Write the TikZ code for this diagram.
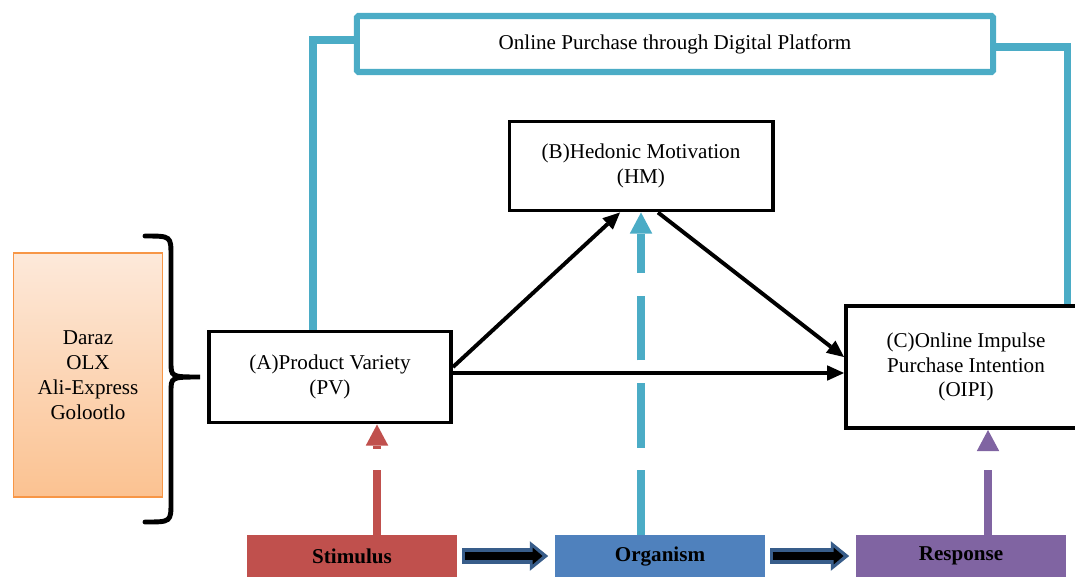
\documentclass[tikz,border=0pt]{standalone}
\usepackage{fontspec}
\setmainfont{Liberation Serif}
\usetikzlibrary{arrows.meta,calc}

\definecolor{linkcyan}{HTML}{4BACC6}
\definecolor{stimred}{HTML}{C0504D}
\definecolor{orgblue}{HTML}{4F81BD}
\definecolor{resppurple}{HTML}{8064A2}
\definecolor{flowblue}{HTML}{385D8A}
\definecolor{sitefill}{HTML}{FBC291}
\definecolor{sitetop}{HTML}{FDE9DA}
\definecolor{siteedge}{HTML}{F79646}

\tikzset{
  varbox/.style={draw=black, line width=2.8pt, fill=white, align=center, inner sep=0pt},
  topbox/.style={draw=linkcyan, line width=4.3pt, rounded corners=1pt, fill=white, align=center, inner sep=0pt},
  sitebox/.style={draw=siteedge, line width=1.2pt, top color=sitetop, bottom color=sitefill, align=center, inner sep=0pt},
  sorbox/.style={align=center, inner sep=0pt, font=\fontsize{15}{18}\selectfont\bfseries},
  link/.style={linkcyan, line width=5pt},
  arr/.style={line width=2.8pt, -{Triangle[length=12pt,width=11pt,line width=0pt]}},
  dasharr/.style={line width=5.5pt, dash pattern=on 46pt off 15pt, -{Triangle[length=15pt,width=16pt,line width=0pt]}},
  flowout/.style={flowblue, line width=11pt, shorten <=4pt, shorten >=5pt, -{Triangle[length=13pt,width=21pt,line width=0pt]}},
  flowin/.style={black, line width=6pt, shorten <=5.5pt, shorten >=9pt, -{Triangle[length=7pt,width=12pt,line width=0pt]}}
}

\begin{document}
\begin{tikzpicture}[x={(0.025cm,0)}, y={(0,-0.025cm)}, font=\fontsize{15}{17.7}\selectfont]
\useasboundingbox (0,0) rectangle (1075,580);

% platform box on top
\node[topbox, minimum width=15.9cm, minimum height=1.4cm] (top) at (675,44) {Online Purchase through Digital Platform};

% the three variables
\node[varbox, minimum width=6.575cm, minimum height=2.225cm] (hm) at (641,166) {(B)Hedonic Motivation\\(HM)};
\node[varbox, minimum width=6.05cm, minimum height=2.275cm] (pv) at (330,377) {(A)Product Variety\\(PV)};
\node[varbox, minimum width=6cm, minimum height=3.05cm] (oipi) at (966,367) {(C)Online Impulse\\Purchase Intention\\(OIPI)};

% platforms
\node[sitebox, minimum width=3.725cm, minimum height=6.1cm] (sites) at (88,375) {Daraz\\OLX\\Ali-Express\\Golootlo};
\coordinate (tip) at (200,377);
\draw[line width=3.5pt, line cap=round] (145,236) .. controls (171,236) .. (171,256) -- (171,362) .. controls (171,377) .. (tip)
  .. controls (171,377) .. (171,392) -- (171,502) .. controls (171,522) .. (145,522);

% S-O-R boxes
\node[sorbox, fill=stimred, minimum width=5.225cm, minimum height=1.05cm] (stim) at (352,556) {Stimulus};
\node[sorbox, fill=orgblue, minimum width=5.225cm, minimum height=1.05cm] (org) at (660,556) {Organism};
\node[sorbox, fill=resppurple, minimum width=5.225cm, minimum height=1.05cm] (resp) at (961,556) {Response};

% cyan links to the platform box
\draw[link] ($(pv.north west)+(106,0)$) |- ($(top.west)+(0,-4)$);
\draw[link] ($(top.east)+(0,3)$) -| ($(oipi.north east)+(-21,0)$);

% paths
\draw[arr] ($(pv.east)+(0,-10)$) -- ($(hm.south)+(-21,0)$);
\draw[arr] ($(hm.south)+(17,0)$) -- ($(oipi.west)+(0,-10)$);
\draw[arr] ($(pv.east)+(0,-4)$) coordinate (h1) -- (h1 -| oipi.west);

% dashed links from S-O-R
\draw[dasharr, stimred] (stim.north -| 377,0) -- (pv.south -| 377,0);
\draw[dasharr, linkcyan, dash pattern=on 46pt off 16pt] (org.north -| hm.south) -- (hm.south);
\draw[dasharr, resppurple] (resp.north -| 988,0) -- (oipi.south -| 988,0);

% S -> O -> R
\draw[flowout] (stim.east) -- (org.west);
\draw[flowin] (stim.east) -- (org.west);
\draw[flowout] (org.east) -- (resp.west);
\draw[flowin] (org.east) -- (resp.west);
\end{tikzpicture}
\end{document}
